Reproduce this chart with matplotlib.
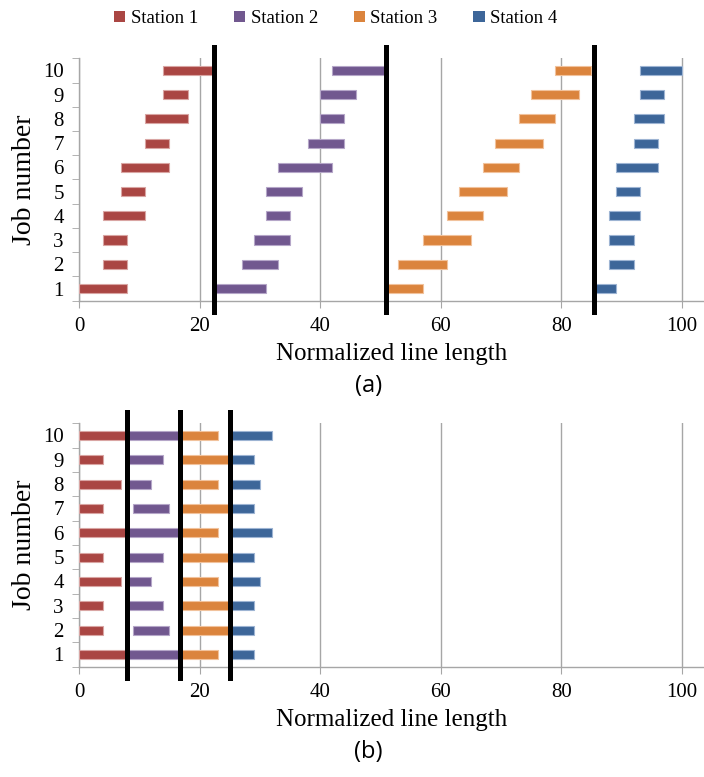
import matplotlib
matplotlib.use("Agg")
import matplotlib.pyplot as plt
from matplotlib.patches import Patch

plt.rcParams["font.family"] = ["Liberation Serif", "DejaVu Serif"]

jobs = list(range(1, 11))
stations = ["Station 1", "Station 2", "Station 3", "Station 4"]
colors = ["#AA4643", "#71588F", "#DB843D", "#3D6699"]
edges = ["#D9A5A3", "#B5A6C8", "#F1C29C", "#9DB4D3"]

# panel (a): start / end of every job on every station
a_start = [
    [0, 4, 4, 4, 7, 7, 11, 11, 14, 14],
    [22.4, 27, 29, 31, 31, 33, 38, 40, 40, 42],
    [51, 53, 57, 61, 63, 67, 69, 73, 75, 79],
    [85.4, 88, 88, 88, 89, 89, 92, 92, 93, 93],
]
a_end = [
    [8, 8, 8, 11, 11, 15, 15, 18, 18, 22],
    [31, 33, 35, 35, 37, 42, 44, 44, 46, 51],
    [57, 61, 65, 67, 71, 73, 77, 79, 83, 85],
    [89, 92, 92, 93, 93, 96, 96, 97, 97, 100],
]
a_lines = [22.4, 51, 85.4]

# panel (b)
b_start = [
    [0, 0, 0, 0, 0, 0, 0, 0, 0, 0],
    [8, 9, 8, 8, 8, 8, 9, 8, 8, 8],
    [17, 17, 17, 17, 17, 17, 17, 17, 17, 17],
    [25, 25, 25, 25, 25, 25, 25, 25, 25, 25],
]
b_end = [
    [8, 4, 4, 7, 4, 8, 4, 7, 4, 8],
    [17, 15, 14, 12, 14, 17, 15, 12, 14, 17],
    [23, 25, 25, 23, 25, 23, 25, 23, 25, 23],
    [29, 29, 29, 30, 29, 32, 29, 30, 29, 32],
]
b_lines = [8, 16.7, 25]

xticks = [0, 20, 40, 60, 80, 100]
GRAY = "#A6A6A6"

fig = plt.figure(figsize=(7.04, 7.77), dpi=100)
ax_a = fig.add_axes([0.1122, 0.613, 0.888, 0.312])
ax_b = fig.add_axes([0.1122, 0.142, 0.888, 0.3132])


def draw(ax, starts, ends, lines, tag):
    for k in range(4):
        w = [e - s for s, e in zip(starts[k], ends[k])]
        ax.barh(jobs, w, left=starts[k], height=0.38, color=colors[k],
                edgecolor=edges[k], linewidth=0.8, zorder=3)
    for x in lines:
        ax.axvline(x, ymin=-0.047, ymax=1.045, color="k", lw=3.6,
                   clip_on=False, zorder=5)
    ax.set_xlim(0, 103.7)
    ax.set_ylim(0.5, 10.5)
    ax.set_xticks(xticks)
    ax.set_yticks(jobs)
    ax.set_yticks([j + 0.5 for j in range(0, 11)], minor=True)
    ax.grid(axis="x", color=GRAY, lw=1, zorder=0)
    for s in ("top", "right"):
        ax.spines[s].set_visible(False)
    for s in ("left", "bottom"):
        ax.spines[s].set_color(GRAY)
        ax.spines[s].set_linewidth(1)
    ax.tick_params(axis="y", which="major", length=0, pad=11, labelsize=15)
    ax.tick_params(axis="y", which="minor", length=5, color=GRAY)
    ax.tick_params(axis="x", length=5, color=GRAY, pad=7, labelsize=15)
    ax.set_xlabel("Normalized line length", fontsize=18, labelpad=5)
    ax.set_ylabel("Job number", fontsize=20, labelpad=4)
    ax.text(0.463, -0.35, tag, transform=ax.transAxes, ha="center", va="center",
            fontsize=17, family=["Open Sans", "DejaVu Sans"])


draw(ax_a, a_start, a_end, a_lines, "(a)")
draw(ax_b, b_start, b_end, b_lines, "(b)")

handles = [Patch(facecolor=c, edgecolor="none") for c in colors]
fig.legend(handles, stations, loc="center", bbox_to_anchor=(0.477, 0.976), ncol=4,
           frameon=False, fontsize=13.5, handlelength=0.6, handleheight=0.6,
           handletextpad=0.3, columnspacing=1.9)

fig.savefig("out.png", dpi=100)
